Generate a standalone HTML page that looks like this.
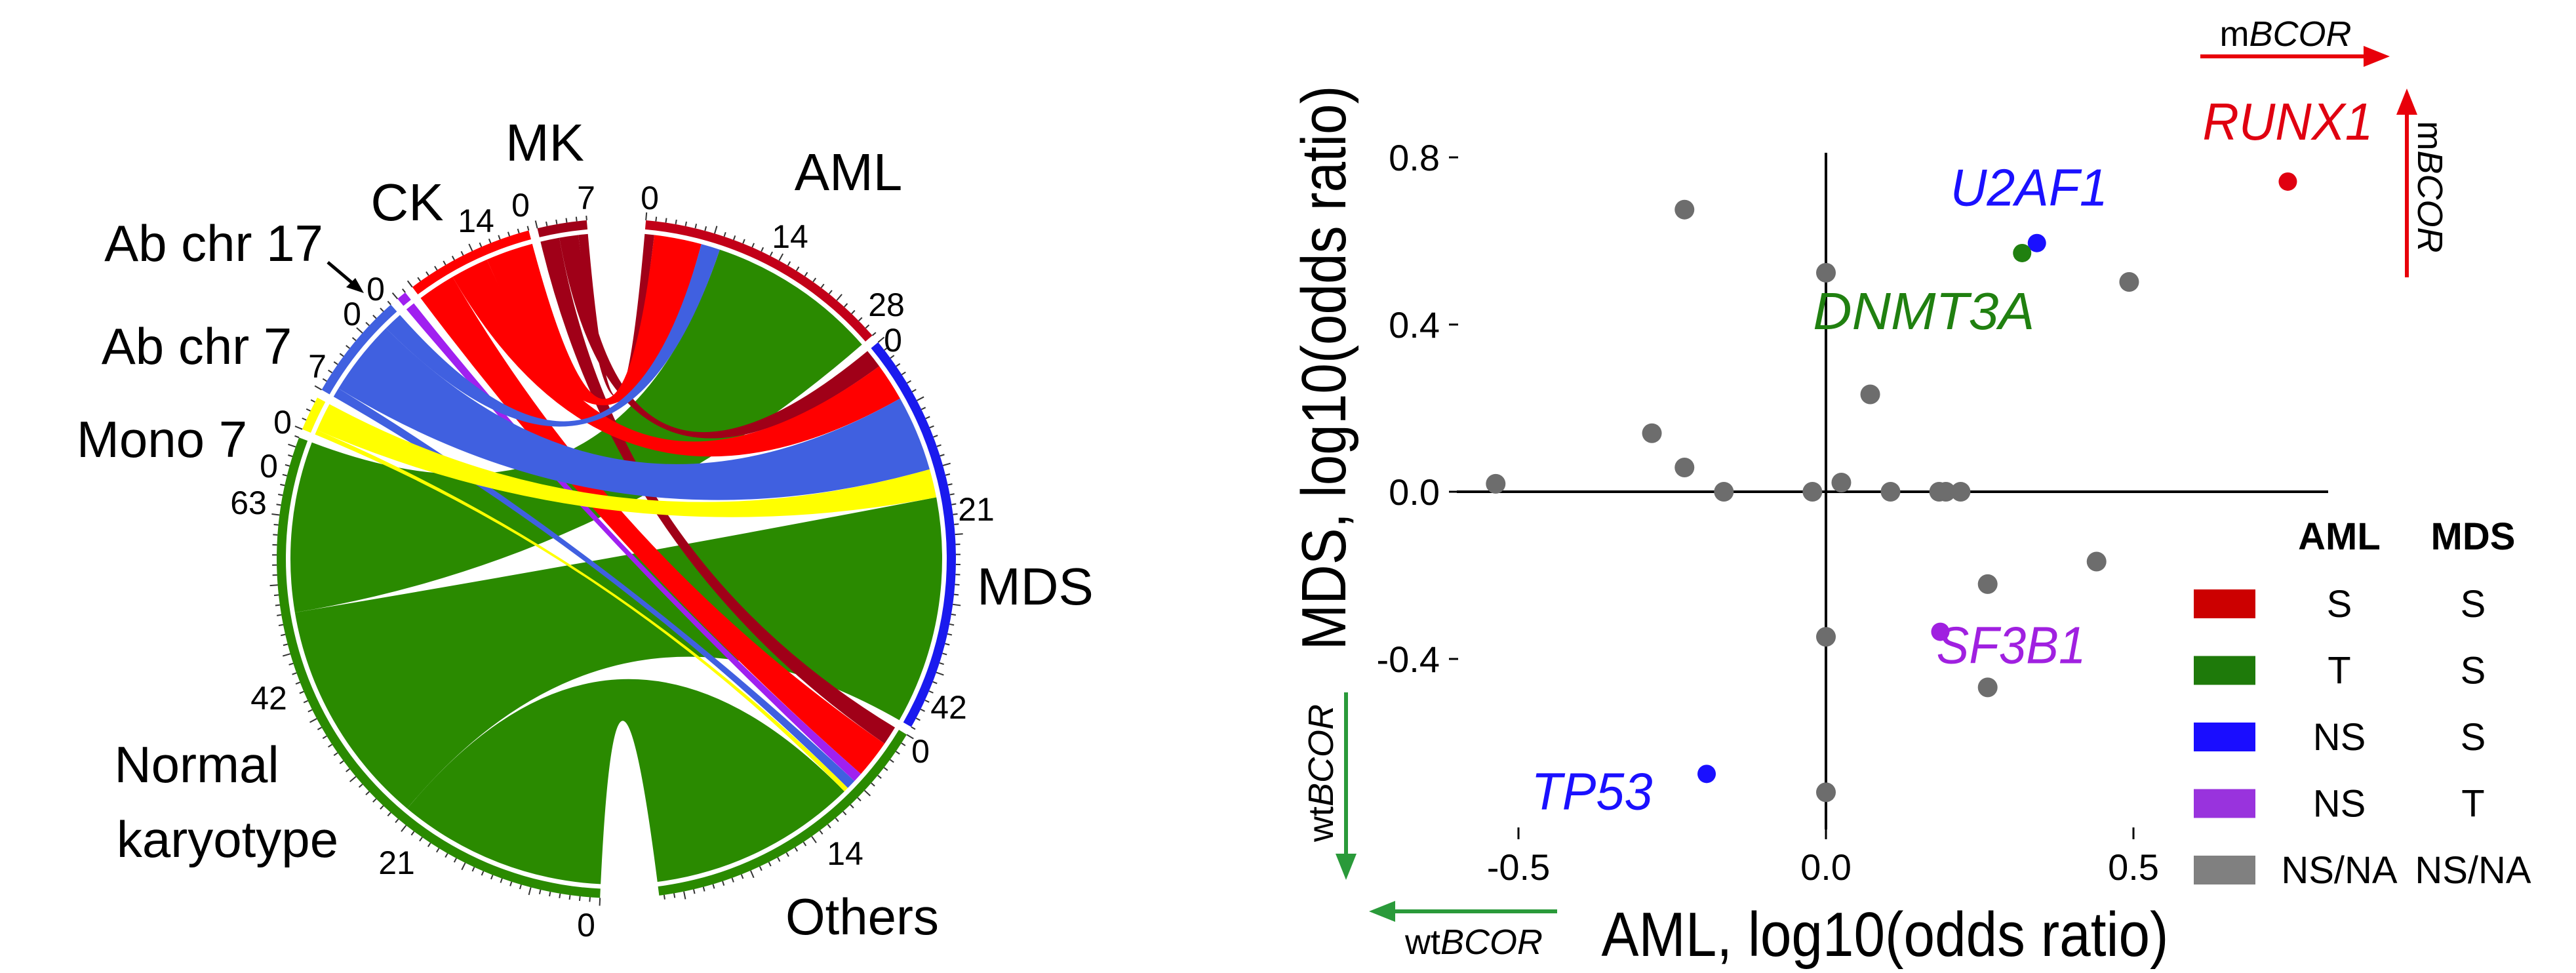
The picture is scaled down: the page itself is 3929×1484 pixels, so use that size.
<!DOCTYPE html>
<html><head><meta charset="utf-8"><style>
html,body{margin:0;padding:0;background:#fff;}
svg{display:block;font-family:"Liberation Sans",sans-serif;}
</style></head><body>
<svg id="fig" width="3929" height="1484" viewBox="0 0 3929 1484">
<g id="chord"></g>
<g id="chordLabels" font-size="50" fill="#000" text-anchor="middle">
 <text x="831" y="245" font-size="80">MK</text>
 <text x="1294" y="290" font-size="80">AML</text>
 <text x="621" y="336" font-size="80">CK</text>
 <text x="326" y="398" font-size="78">Ab chr 17</text>
 <text x="300" y="555" font-size="78">Ab chr 7</text>
 <text x="247" y="697" font-size="78">Mono 7</text>
 <text x="1579" y="922" font-size="80">MDS</text>
 <text x="300" y="1193" font-size="78">Normal</text>
 <text x="347" y="1307" font-size="78">karyotype</text>
 <text x="1315" y="1425" font-size="78">Others</text>
 <text x="726" y="354">14</text>
 <text x="794" y="330">0</text>
 <text x="894" y="319">7</text>
 <text x="991" y="319">0</text>
 <text x="1205" y="378">14</text>
 <text x="1352" y="482">28</text>
 <text x="1362" y="536">0</text>
 <text x="1489" y="794">21</text>
 <text x="1447" y="1096">42</text>
 <text x="1404" y="1163">0</text>
 <text x="1289" y="1319">14</text>
 <text x="894" y="1428">0</text>
 <text x="605" y="1333">21</text>
 <text x="410" y="1082">42</text>
 <text x="379" y="784">63</text>
 <text x="431" y="661">0</text>
 <text x="410" y="728">0</text>
 <text x="484" y="576">7</text>
 <text x="537" y="496">0</text>
 <text x="573" y="458">0</text>
 <line x1="500" y1="400" x2="545" y2="438" stroke="#000" stroke-width="5"/>
 <polygon points="555,447 528,438 542,424" fill="#000"/>
</g>
<g id="scatter"></g>
</svg>
<script>
const NS="http://www.w3.org/2000/svg";
function mk(tag,attrs,parent){const e=document.createElementNS(NS,tag);for(const k in attrs)e.setAttribute(k,attrs[k]);parent.appendChild(e);return e;}

/* ---------- chord data ---------- */
const sectorNames=["AML","MDS","Others","NK","Mono7","AbChr7","AbChr17","CK","MK"];
const sectorColors=["#c20018","#1a1aee","#2a8a00","#2a8a00","#ffff00","#4060e0","#a020f0","#ff0000","#a00018"];
const linkSources=["MK","MK","MK","CK","CK","CK","AbChr17","AbChr7","AbChr7","AbChr7","Mono7","Mono7","NK","NK","NK"];
const linkTargets=["AML","MDS","Others","AML","MDS","Others","Others","AML","MDS","Others","MDS","Others","AML","MDS","Others"];
const linkValues=[1,2,2,5,4,4,1,2,8,1,3,0.5,18,24,22];

(function(){
 const g=document.getElementById('chord');
 const cx=940,cy=852,Rin=504,Rout=518,Rc=497;
 const sizes=sectorNames.map(n=>{let s=0;linkValues.forEach((v,i)=>{if(linkSources[i]===n||linkTargets[i]===n)s+=v;});return s;});
 const total=sizes.reduce((a,b)=>a+b,0);
 const bigGap=10,smallGap=1.5;
 const unit=(360-2*bigGap-7*smallGap)/total;
 const start={},endA={};
 let a=bigGap/2;
 sectorNames.forEach((n,i)=>{start[n]=a;endA[n]=a+sizes[i]*unit;a=endA[n]+(n==="Others"?bigGap:smallGap);});
 const P=(ang,r)=>{const t=ang*Math.PI/180;return [cx+r*Math.sin(t),cy-r*Math.cos(t)];};
 // slot allocation
 const cursor={};sectorNames.forEach(n=>cursor[n]=start[n]);
 const srcOrder=["NK","Mono7","AbChr7","AbChr17","CK","MK"];
 const tgtOrderSrc=["MK","CK","AbChr17","AbChr7","Mono7","NK"];
 const segs=linkValues.map(()=>({}));
 // sources: clockwise Others, MDS, AML
 srcOrder.forEach(s=>{["Others","MDS","AML"].forEach(t=>{linkValues.forEach((v,i)=>{if(linkSources[i]===s&&linkTargets[i]===t){segs[i].s=[cursor[s],cursor[s]+v*unit];cursor[s]+=v*unit;}});});});
 ["AML","MDS","Others"].forEach(t=>{tgtOrderSrc.forEach(s=>{linkValues.forEach((v,i)=>{if(linkSources[i]===s&&linkTargets[i]===t){segs[i].t=[cursor[t],cursor[t]+v*unit];cursor[t]+=v*unit;}});});});
 const order=linkValues.map((v,i)=>i).sort((x,y)=>(linkSources[x]==="NK"?0:1)-(linkSources[y]==="NK"?0:1));
 order.forEach(i=>{
  const s=segs[i],col=sectorColors[sectorNames.indexOf(linkSources[i])];
  const a1=P(s.s[0],Rc),a2=P(s.s[1],Rc),b1=P(s.t[0],Rc),b2=P(s.t[1],Rc);
  const la=(s.s[1]-s.s[0])>180?1:0,lb=(s.t[1]-s.t[0])>180?1:0;
  const d=`M${a1} A${Rc} ${Rc} 0 ${la} 1 ${a2} Q${cx} ${cy} ${b1} A${Rc} ${Rc} 0 ${lb} 1 ${b2} Q${cx} ${cy} ${a1} Z`;
  const p=mk('path',{d:d,fill:col},g);
  
  
 });
 sectorNames.forEach((n,i)=>{
  const a0=start[n],a1=endA[n];
  const o0=P(a0,Rout),o1=P(a1,Rout),i1=P(a1,Rin),i0=P(a0,Rin);
  const la=(a1-a0)>180?1:0;
  const p=mk('path',{d:`M${o0} A${Rout} ${Rout} 0 ${la} 1 ${o1} L${i1} A${Rin} ${Rin} 0 ${la} 0 ${i0} Z`,fill:sectorColors[i]},g);
  
  
  for(let k=0;k<=sizes[i];k++){
   const t0=P(a0+k*unit,Rout),t1=P(a0+k*unit,Rout+(k%7===0?12:7));
   const l=mk('line',{x1:t0[0],y1:t0[1],x2:t1[0],y2:t1[1],stroke:"#333","stroke-width":2},g);
   
   
  }
 });
})();

/* ---------- scatter data ---------- */
const grayX=[-0.23,0,0.493,0.072,-0.283,-0.23,-0.537,-0.166,-0.022,0.025,0.105,0.184,0.195,0.219,0.44,0.263,0,0.263,0];
const grayY=[0.675,0.524,0.502,0.233,0.14,0.058,0.019,0,0,0.022,0,0,0,0,-0.167,-0.221,-0.347,-0.468,-0.719];
const geneNames=["RUNX1","U2AF1","DNMT3A","SF3B1","TP53"];
const geneX=[0.751,0.343,0.319,0.186,-0.194];
const geneY=[0.742,0.595,0.571,-0.335,-0.675];
const geneColors=["#e00010","#1a10ff","#208010","#a020e0","#1a10ff"];
const xTicks=[-0.5,0,0.5];
const xTickLabels=["-0.5","0.0","0.5"];
const yTicks=[0.8,0.4,0,-0.4];
const yTickLabels=["0.8","0.4","0.0","-0.4"];
const legendAML=["S","T","NS","NS","NS/NA"];
const legendMDS=["S","S","S","T","NS/NA"];
const legendColors=["#cc0000","#1e7a0a","#1a0dff","#9933dd","#808080"];

(function(){
 const g=document.getElementById('scatter');
 const X=v=>2785+v*938, Y=v=>750-v*637.5;
 let e;
 e=mk('line',{x1:2222,y1:Y(0),x2:3551,y2:Y(0),stroke:"#000","stroke-width":4},g);
 
 e=mk('line',{x1:X(0),y1:233,x2:X(0),y2:1265,stroke:"#000","stroke-width":4},g);
 
 xTicks.forEach((v,i)=>{
  e=mk('line',{x1:X(v),y1:1262,x2:X(v),y2:1280,stroke:"#000","stroke-width":3},g);
  
  e=mk('text',{x:X(v),y:1342,"font-size":56,"text-anchor":"middle"},g);e.textContent=xTickLabels[i];
  
 });
 yTicks.forEach((v,i)=>{
  e=mk('line',{x1:2210,y1:Y(v),x2:2224,y2:Y(v),stroke:"#000","stroke-width":3},g);
  
  e=mk('text',{x:2196,y:Y(v)+20,"font-size":56,"text-anchor":"end"},g);e.textContent=yTickLabels[i];
  
 });
 grayX.forEach((v,i)=>{
  e=mk('circle',{cx:X(v),cy:Y(grayY[i]),r:15,fill:"#6d6d6d"},g);
  
 });
 const labOff=[[0,-92],[-12,-85],[-150,88],[108,20],[-175,26]];
 const labW=[260,240,338,228,185];
 geneX.forEach((v,i)=>{
  e=mk('circle',{cx:X(v),cy:Y(geneY[i]),r:14,fill:geneColors[i]},g);
  
  e=mk('text',{x:X(v)+labOff[i][0],y:Y(geneY[i])+labOff[i][1]+28,"font-size":80,"font-style":"italic",fill:geneColors[i],"text-anchor":"middle",textLength:labW[i],lengthAdjust:"spacingAndGlyphs"},g);
  e.textContent=geneNames[i];
  
 });
 // axis titles
 e=mk('text',{x:2875,y:1458,"font-size":96,"text-anchor":"middle",textLength:865,lengthAdjust:"spacingAndGlyphs"},g);
 e.textContent="AML, log10(odds ratio)";
 e=mk('text',{x:0,y:0,"font-size":96,"text-anchor":"middle",textLength:861,lengthAdjust:"spacingAndGlyphs",transform:"translate(2052,561) rotate(-90)"},g);
 e.textContent="MDS, log10(odds ratio)";
 // arrows
 e=mk('line',{x1:3356,y1:86,x2:3610,y2:86,stroke:"#e8000a","stroke-width":6},g);
 
 e=mk('polygon',{points:"3645,86 3605,70 3605,102",fill:"#e8000a"},g);
 
 e=mk('text',{x:3486,y:70,"font-size":54,"text-anchor":"middle"},g);
 e.innerHTML='m<tspan font-style="italic">BCOR</tspan>';
 e=mk('line',{x1:3671,y1:423,x2:3671,y2:170,stroke:"#e8000a","stroke-width":6},g);
 
 e=mk('polygon',{points:"3671,135 3655,175 3687,175",fill:"#e8000a"},g);
 
 e=mk('text',{x:0,y:0,"font-size":54,"text-anchor":"middle",transform:"translate(3688,285) rotate(90)"},g);
 e.innerHTML='m<tspan font-style="italic">BCOR</tspan>';
 e=mk('line',{x1:2053,y1:1056,x2:2053,y2:1305,stroke:"#2a9a3a","stroke-width":6},g);
 
 e=mk('polygon',{points:"2053,1342 2037,1302 2069,1302",fill:"#2a9a3a"},g);
 
 e=mk('text',{x:0,y:0,"font-size":54,"text-anchor":"middle",transform:"translate(2033,1179) rotate(-90)"},g);
 e.innerHTML='wt<tspan font-style="italic">BCOR</tspan>';
 e=mk('line',{x1:2375,y1:1390,x2:2125,y2:1390,stroke:"#2a9a3a","stroke-width":6},g);
 
 e=mk('polygon',{points:"2088,1390 2128,1374 2128,1406",fill:"#2a9a3a"},g);
 
 e=mk('text',{x:2248,y:1455,"font-size":54,"text-anchor":"middle"},g);
 e.innerHTML='wt<tspan font-style="italic">BCOR</tspan>';
 // legend
 e=mk('text',{x:3568,y:838,"font-size":58,"font-weight":"bold","text-anchor":"middle"},g);e.textContent="AML";
 
 e=mk('text',{x:3772,y:838,"font-size":58,"font-weight":"bold","text-anchor":"middle"},g);e.textContent="MDS";
 
 legendColors.forEach((c,i)=>{
  const y=921+i*101.5;
  e=mk('rect',{x:3346,y:y-22,width:94,height:44,fill:c},g);
  
  e=mk('text',{x:3568,y:y+20,"font-size":58,"text-anchor":"middle"},g);e.textContent=legendAML[i];
  
  e=mk('text',{x:3772,y:y+20,"font-size":58,"text-anchor":"middle"},g);e.textContent=legendMDS[i];
  
 });
})();
</script>
</body></html>
